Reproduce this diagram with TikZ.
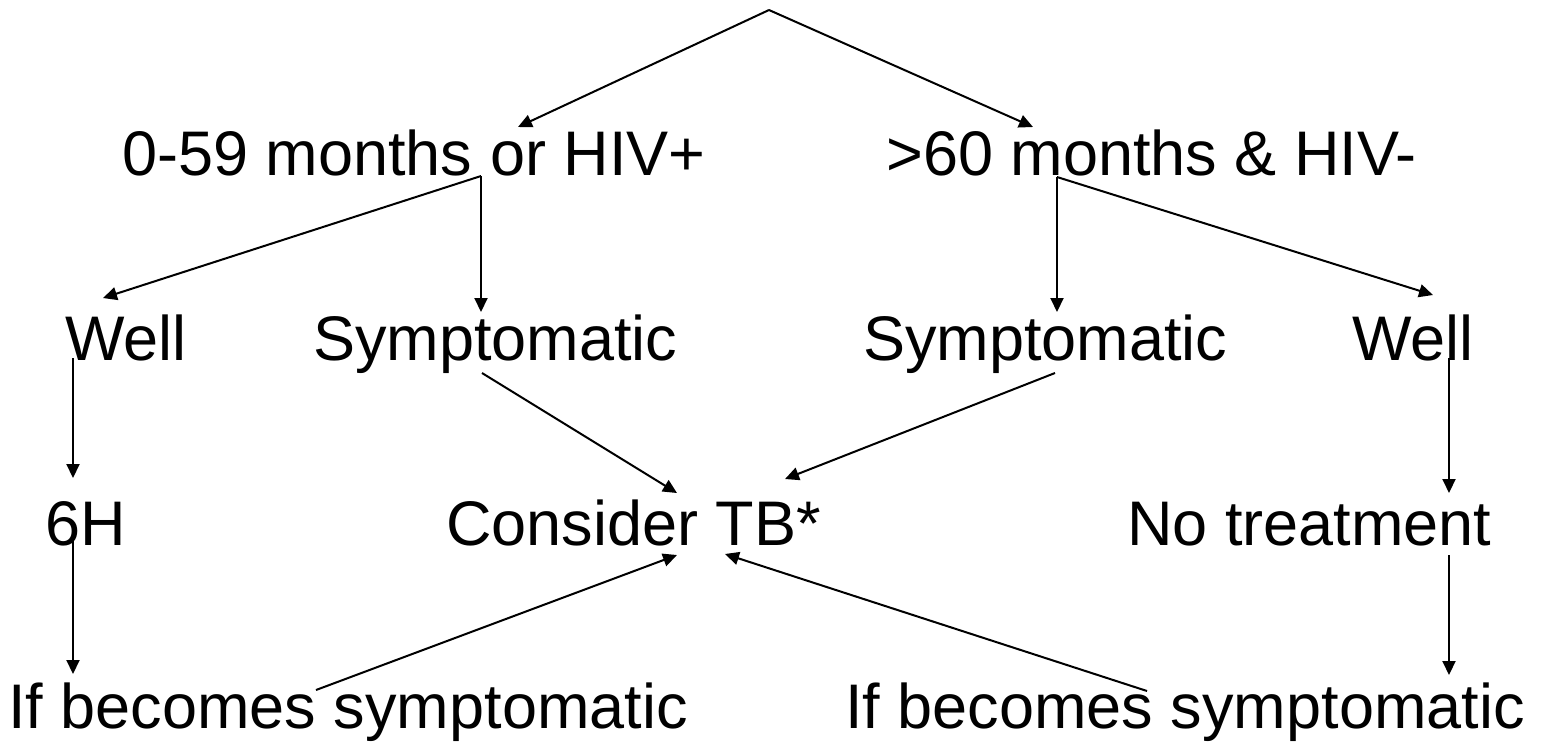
\documentclass[tikz,border=0pt]{standalone}
\usepackage{fontspec}
\setmainfont{Liberation Sans}
\usepackage{tikz}
\usetikzlibrary{arrows.meta,positioning,calc}

\tikzset{
    lbl/.style={anchor=base west, inner sep=0pt, font=\fontsize{31.5}{36}\selectfont},
    arr/.style={line width=1pt, -{Triangle[length=7pt,width=6.5pt]}}
}

\begin{document}
\begin{tikzpicture}[x=0.5pt,y=-0.5pt]
    \useasboundingbox (0,0) rectangle (1543,741);

    \node[lbl] (young) at (122,175) {0-59 months or HIV+};
    \node[lbl] (old) at (886,175) {>60 months \& HIV-};
    \node[lbl] (wellA) at (65,360) {Well};
    \node[lbl] (symA) at (313,360) {Symptomatic};
    \node[lbl] (symB) at (863,360) {Symptomatic};
    \node[lbl] (wellB) at (1352,360) {Well};
    \node[lbl] (sixH) at (45,545) {6H};
    \node[lbl] (tb) at (446,545) {Consider TB*};
    \node[lbl] (none) at (1127,545) {No treatment};
    \node[lbl] (ifA) at (8,728) {If becomes symptomatic};
    \node[lbl] (ifB) at (845,728) {If becomes symptomatic};

    % branch points and line ends
    \coordinate (top) at (769,10);
    \coordinate (youngIn) at (518,127);
    \coordinate (oldIn) at (1033,127);
    \coordinate (youngOut) at (481,176);
    \coordinate (oldOut) at (1057,177);
    \coordinate (wellAIn) at (103,298);
    \coordinate (symAIn) at (481,312);
    \coordinate (symBIn) at (1057,312);
    \coordinate (wellBIn) at (1433,295);
    \coordinate (wellAOut) at (73,358);
    \coordinate (sixHIn) at (73,478);
    \coordinate (symAOut) at (482,373);
    \coordinate (symBOut) at (1055,373);
    \coordinate (tbInA) at (677,493);
    \coordinate (tbInB) at (785,479);
    \coordinate (tbInC) at (677,555);
    \coordinate (tbInD) at (725,554);
    \coordinate (wellBOut) at (1449,358);
    \coordinate (noneIn) at (1449,493);
    \coordinate (sixHOut) at (73,540);
    \coordinate (ifAIn) at (73,674);
    \coordinate (noneOut) at (1449,555);
    \coordinate (ifBIn) at (1449,675);
    \coordinate (ifAOut) at (316,690);
    \coordinate (ifBOut) at (1147,691);

    \draw[arr] (top) -- (youngIn);
    \draw[arr] (top) -- (oldIn);
    \draw[arr] (youngOut) -- (wellAIn);
    \draw[arr] (youngOut) -- (symAIn);
    \draw[arr] (oldOut) -- (symBIn);
    \draw[arr] (oldOut) -- (wellBIn);
    \draw[arr] (wellAOut) -- (sixHIn);
    \draw[arr] (symAOut) -- (tbInA);
    \draw[arr] (symBOut) -- (tbInB);
    \draw[arr] (wellBOut) -- (noneIn);
    \draw[arr] (sixHOut) -- (ifAIn);
    \draw[arr] (noneOut) -- (ifBIn);
    \draw[arr] (ifAOut) -- (tbInC);
    \draw[arr] (ifBOut) -- (tbInD);
\end{tikzpicture}
\end{document}
